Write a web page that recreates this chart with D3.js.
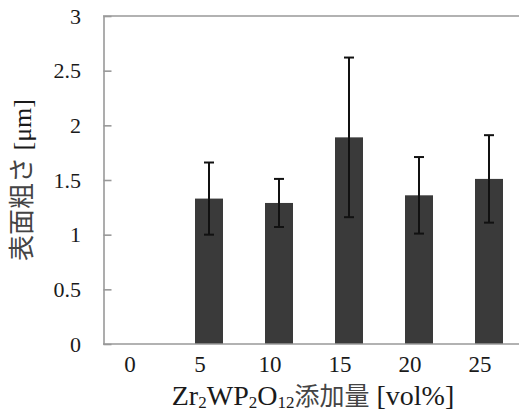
<!DOCTYPE html>
<html>
<head>
<meta charset="utf-8">
<script src="https://cdn.jsdelivr.net/npm/d3@7"></script>
<style>
  html, body { margin: 0; padding: 0; background: #fff; }
  svg { display: block; }
</style>
</head>
<body>
<svg id="chart" width="519" height="412" font-family="'Liberation Serif', 'Times New Roman', 'Noto Sans CJK JP', serif"></svg>
<script>
const categories = ["0", "5", "10", "15", "20", "25"];
const values = [0, 1.33, 1.29, 1.89, 1.36, 1.51];
const errors = [0, 0.33, 0.22, 0.73, 0.35, 0.40];
const yTicks = [0, 0.5, 1, 1.5, 2, 2.5, 3];
const yTickLabels = ["0", "0.5", "1", "1.5", "2", "2.5", "3"];

const svg = d3.select("#chart");
const x = d3.scaleBand().domain(categories).range([104, 524]).paddingInner(0.6).paddingOuter(0.3);
const y = d3.scaleLinear().domain([0, 3]).range([344, 16]);
const axisColor = "#999";
const textColor = "#1a1a1a";
const cjkFont = "'Noto Sans CJK JP', sans-serif";

// top frame line (at y = 3)
svg.append("line").attr("x1", 103).attr("x2", 524).attr("y1", y(3)).attr("y2", y(3))
  .attr("stroke", axisColor).attr("stroke-width", 1.6);

// y axis
const yAxis = svg.append("g").attr("transform", "translate(103.5,0)")
  .call(d3.axisRight(y).tickValues(yTicks).tickFormat("").tickSizeInner(8).tickSizeOuter(0));
yAxis.selectAll("path, line").attr("stroke", axisColor).attr("stroke-width", 1.6);

// y tick labels
svg.append("g").selectAll("text").data(yTicks).join("text")
  .attr("x", 81).attr("y", d => y(d)).attr("dy", "0.35em")
  .attr("text-anchor", "end").attr("font-size", 22).attr("fill", textColor)
  .text((d, i) => yTickLabels[i]);

// bars
svg.append("g").selectAll("rect").data(categories.filter((c, i) => values[i] > 0)).join("rect")
  .attr("x", c => x(c)).attr("width", x.bandwidth())
  .attr("y", c => y(values[categories.indexOf(c)]))
  .attr("height", c => y(0) - y(values[categories.indexOf(c)]))
  .attr("fill", "#3a3a3a");

// x axis line
svg.append("line").attr("x1", 103).attr("x2", 524).attr("y1", 344).attr("y2", 344)
  .attr("stroke", axisColor).attr("stroke-width", 1.6);

// error bars
const eb = svg.append("g").selectAll("g").data(categories.filter((c, i) => errors[i] > 0)).join("g");
eb.append("line")
  .attr("x1", c => x(c) + x.bandwidth() / 2).attr("x2", c => x(c) + x.bandwidth() / 2)
  .attr("y1", c => { const i = categories.indexOf(c); return y(values[i] + errors[i]); })
  .attr("y2", c => { const i = categories.indexOf(c); return y(values[i] - errors[i]); })
  .attr("stroke", "#111").attr("stroke-width", 2);
[1, -1].forEach(s => {
  eb.append("line")
    .attr("x1", c => x(c) + x.bandwidth() / 2 - 5).attr("x2", c => x(c) + x.bandwidth() / 2 + 5)
    .attr("y1", c => { const i = categories.indexOf(c); return y(values[i] + s * errors[i]); })
    .attr("y2", c => { const i = categories.indexOf(c); return y(values[i] + s * errors[i]); })
    .attr("stroke", "#111").attr("stroke-width", 2);
});

// x tick labels
svg.append("g").selectAll("text").data(categories).join("text")
  .attr("x", c => x(c) + x.bandwidth() / 2 - 9).attr("y", 372)
  .attr("text-anchor", "middle").attr("font-size", 23).attr("fill", textColor)
  .text(c => c);

// x axis title
const xt = svg.append("text").attr("x", 313).attr("y", 405).attr("text-anchor", "middle")
  .attr("font-size", 28).attr("fill", textColor);
xt.append("tspan").text("Zr");
xt.append("tspan").attr("font-size", 17).attr("dy", 3).text("2");
xt.append("tspan").attr("dy", -3).text("WP");
xt.append("tspan").attr("font-size", 17).attr("dy", 3).text("2");
xt.append("tspan").attr("dy", -3).text("O");
xt.append("tspan").attr("font-size", 17).attr("dy", 3).text("12");
xt.append("tspan").attr("dy", -3).attr("font-family", cjkFont).attr("font-size", 25).attr("fill", "#444").text("添加量");
xt.append("tspan").text(" [vol%]");

// y axis title
const yt = svg.append("text")
  .attr("transform", "translate(22,180) rotate(-90)")
  .attr("text-anchor", "middle").attr("dy", "0.35em").attr("font-size", 26).attr("fill", textColor);
yt.append("tspan").attr("font-family", cjkFont).attr("font-size", 26).attr("fill", "#444").text("表面粗さ");
yt.append("tspan").text(" [μm]");
</script>
</body>
</html>
